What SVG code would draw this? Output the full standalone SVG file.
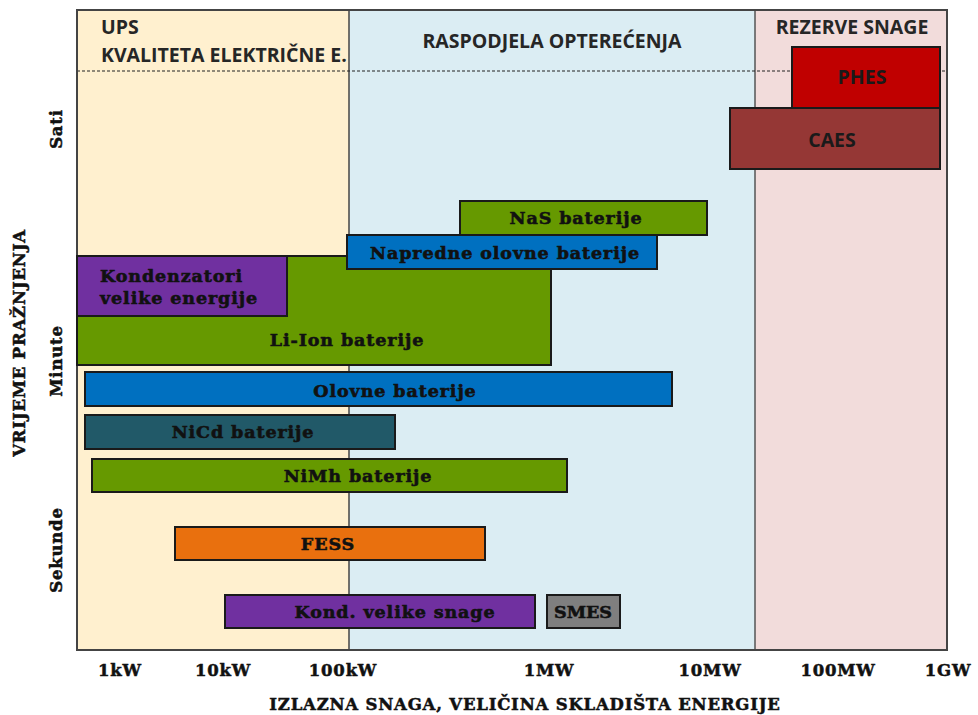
<svg xmlns="http://www.w3.org/2000/svg" width="978" height="715" viewBox="0 0 978 715">
<style>
.bar{stroke:#1a1a1a;stroke-width:2}
.bt{font-family:"DejaVu Serif","Liberation Serif",serif;font-weight:bold;font-size:17.5px;letter-spacing:0.9px;fill:#111;stroke:#111;stroke-width:0.6;text-anchor:middle;dominant-baseline:central}
.bl{text-anchor:start}
.hd{font-family:"Open Sans","Liberation Sans",sans-serif;font-weight:bold;font-size:19.5px;fill:#262626}
.ax{font-family:"DejaVu Serif","Liberation Serif",serif;font-weight:bold;font-size:16.5px;letter-spacing:0.8px;fill:#111;stroke:#111;stroke-width:0.5;text-anchor:middle}
.sc{font-family:"Open Sans","Liberation Sans",sans-serif;font-weight:bold;font-size:19.5px;fill:#1a1a1a;text-anchor:middle;dominant-baseline:central}
</style>
<rect width="978" height="715" fill="#ffffff"/>
<g id="background">
<rect x="77" y="10" width="272" height="640" fill="#fff0cf"/>
<rect x="349" y="10" width="406" height="640" fill="#dbedf3"/>
<rect x="755" y="10" width="192" height="640" fill="#f2dcdb"/>
<line x1="349" y1="10" x2="349" y2="650" stroke="#444" stroke-width="1.5"/>
<line x1="755" y1="10" x2="755" y2="650" stroke="#555" stroke-width="1.5"/>
<line x1="77" y1="71" x2="947" y2="71" stroke="#222" stroke-width="1.2" stroke-dasharray="3,2"/>
<rect x="77" y="10" width="870" height="640" fill="none" stroke="#444" stroke-width="2"/>
</g>
<g id="headers">
<text class="hd" x="101" y="34">UPS</text>
<text class="hd" x="101" y="62">KVALITETA ELEKTRIČNE E.</text>
<text class="hd" x="552" y="48" text-anchor="middle">RASPODJELA OPTEREĆENJA</text>
<text class="hd" x="852" y="34" text-anchor="middle">REZERVE SNAGE</text>
</g>
<g id="phes"><rect class="bar" x="792" y="47" width="148" height="61" fill="#c00000"/><text class="sc" x="862" y="76">PHES</text></g>
<g id="caes"><rect class="bar" x="730" y="108" width="210" height="61" fill="#953735"/><text class="sc" x="832" y="139">CAES</text></g>
<g id="li-ion"><rect class="bar" x="77" y="256" width="474" height="109" fill="#669900"/><text class="bt" x="347" y="340">Li-Ion baterije</text></g>
<g id="kond-energije"><rect class="bar" x="77" y="256" width="210" height="60" fill="#7030a0"/><text class="bt bl" x="100" y="276">Kondenzatori</text><text class="bt bl" x="100" y="298">velike energije</text></g>
<g id="nas"><rect class="bar" x="460" y="201" width="247" height="34" fill="#669900"/><text class="bt" x="576" y="218">NaS baterije</text></g>
<g id="napredne"><rect class="bar" x="347" y="235" width="310" height="34" fill="#0070c0"/><text class="bt" x="505" y="253">Napredne olovne baterije</text></g>
<g id="olovne"><rect class="bar" x="85" y="372" width="587" height="34" fill="#0070c0"/><text class="bt" x="395" y="391">Olovne baterije</text></g>
<g id="nicd"><rect class="bar" x="85" y="415" width="310" height="34" fill="#215968"/><text class="bt" x="243" y="432">NiCd baterije</text></g>
<g id="nimh"><rect class="bar" x="92" y="459" width="475" height="33" fill="#669900"/><text class="bt" x="358" y="476">NiMh baterije</text></g>
<g id="fess"><rect class="bar" x="175" y="527" width="310" height="33" fill="#e9700e"/><text class="bt" x="328" y="544">FESS</text></g>
<g id="kond-snage"><rect class="bar" x="225" y="595" width="310" height="33" fill="#7030a0"/><text class="bt" x="395" y="612">Kond. velike snage</text></g>
<g id="smes"><rect class="bar" x="547" y="595" width="73" height="33" fill="#7f7f7f"/><text class="bt" x="583" y="612" style="letter-spacing:0">SMES</text></g>
<g id="axes">
<text class="ax" x="120" y="676">1kW</text>
<text class="ax" x="223" y="676">10kW</text>
<text class="ax" x="343" y="676">100kW</text>
<text class="ax" x="549" y="676">1MW</text>
<text class="ax" x="710" y="676">10MW</text>
<text class="ax" x="838" y="676">100MW</text>
<text class="ax" x="948" y="676">1GW</text>
<text class="ax" x="525" y="710">IZLAZNA SNAGA, VELIČINA SKLADIŠTA ENERGIJE</text>
<text class="ax" transform="translate(25,343) rotate(-90)">VRIJEME PRAŽNJENJA</text>
<text class="ax" transform="translate(62,129) rotate(-90)">Sati</text>
<text class="ax" transform="translate(62,361) rotate(-90)">Minute</text>
<text class="ax" transform="translate(62,550) rotate(-90)">Sekunde</text>
</g>
</svg>
